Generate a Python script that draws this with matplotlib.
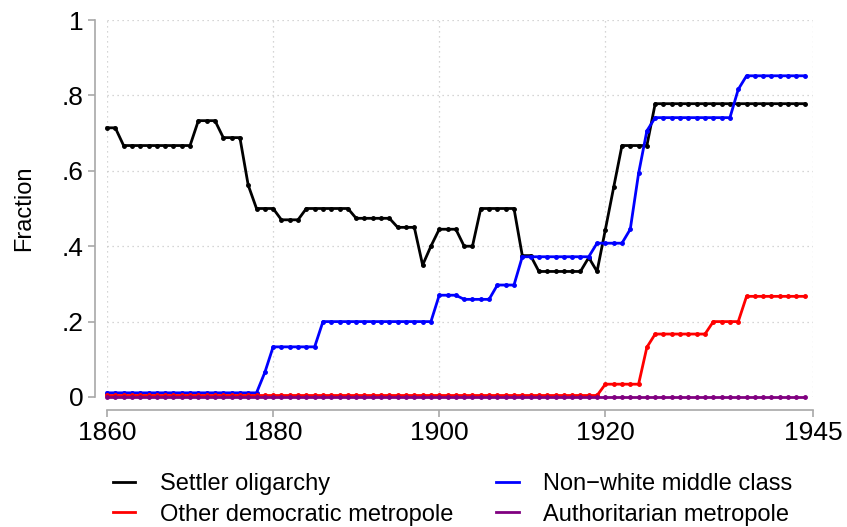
import matplotlib
matplotlib.use("Agg")
import matplotlib.pyplot as plt

plt.rcParams['font.family'] = ['Liberation Sans', 'DejaVu Sans']

years = list(range(1860, 1945))

settler = [.714, .714,
           .667, .667, .667, .667, .667, .667, .667, .667, .667,
           .733, .733, .733, .688, .688, .688, .562, .5, .5, .5,
           .47, .47, .47, .5, .5, .5, .5, .5, .5,
           .474, .474, .474, .474, .474, .45, .45, .45, .35, .4,
           .445, .445, .445, .4, .4, .5, .5, .5, .5, .5,
           .375, .375, .333, .333, .333, .333, .333, .333, .37, .333,
           .444, .556, .667, .667, .667, .667, .778, .778, .778, .778,
           .778, .778, .778, .778, .778, .778, .778, .778, .778, .778,
           .778, .778, .778, .778, .778]

nonwhite = [.011, .011, .011, .011, .011, .011, .011, .011, .011, .011,
            .011, .011, .011, .011, .011, .011, .011, .011, .011, .065,
            .133, .133, .133, .133, .133, .133, .2, .2, .2, .2,
            .2, .2, .2, .2, .2, .2, .2, .2, .2, .2,
            .27, .27, .27, .259, .259, .259, .259, .297, .297, .297,
            .372, .372, .372, .372, .372, .372, .372, .372, .372, .408,
            .408, .408, .408, .445, .593, .706, .741, .741, .741, .741,
            .741, .741, .741, .741, .741, .741, .816, .852, .852, .852,
            .852, .852, .852, .852, .852]

other_dem = [.004, .004, .004, .004, .004, .004, .004, .004, .004, .004,
             .004, .004, .004, .004, .004, .004, .004, .004, .004, .004,
             .004, .004, .004, .004, .004, .004, .004, .004, .004, .004,
             .004, .004, .004, .004, .004, .004, .004, .004, .004, .004,
             .004, .004, .004, .004, .004, .004, .004, .004, .004, .004,
             .004, .004, .004, .004, .004, .004, .004, .004, .004, .004,
             .034, .034, .034, .034, .034, .132, .167, .167, .167, .167,
             .167, .167, .167, .2, .2, .2, .2, .267, .267, .267,
             .267, .267, .267, .267, .267]

authoritarian = [0.0] * 85

xticks = [1860, 1880, 1900, 1920, 1945]
yticks = [0, .2, .4, .6, .8, 1]
ytick_labels = ['0', '.2', '.4', '.6', '.8', '1']

fig = plt.figure(figsize=(8.47, 5.27), dpi=100)
ax = fig.add_axes([107/847, 130/527, 706/847, 377/527])

l1, = ax.plot(years, settler, color='black', lw=2.0, marker='o', ms=2.5, label='Settler oligarchy')
l2, = ax.plot(years, nonwhite, color='#0000ff', lw=2.0, marker='o', ms=2.5, label='Non\u2212white middle class')
l3, = ax.plot(years, other_dem, color='#ff0000', lw=2.0, marker='o', ms=2.5, label='Other democratic metropole')
l4, = ax.plot(years, authoritarian, color='#800080', lw=2.0, marker='o', ms=2.5, label='Authoritarian metropole')
for l in [l1, l2, l3, l4]:
    l.set_clip_on(False)

ax.set_xlim(1860, 1945)
ax.set_ylim(0, 1)
ax.set_xticks(xticks)
ax.set_yticks(yticks)
ax.set_yticklabels(ytick_labels)
ax.grid(True, linestyle=(0, (1, 3)), color='#c8c8c8', lw=0.9)
ax.set_axisbelow(True)

for s in ['top', 'right']:
    ax.spines[s].set_visible(False)
ax.spines['left'].set_position(('outward', 8.6))
ax.spines['bottom'].set_position(('outward', 9.4))
for s in ['left', 'bottom']:
    ax.spines[s].set_color('#a8a8a8')
    ax.spines[s].set_linewidth(1.2)
ax.tick_params(colors='#a8a8a8', labelcolor='black', labelsize=19, length=5, width=1.2, pad=3)

ax.set_ylabel('Fraction', fontsize=17, labelpad=19)

fig.legend(handles=[l1, l3, l2, l4], ncol=2, frameon=False, fontsize=17,
           loc='upper left', bbox_to_anchor=(113/847, 1 - 473/527),
           handlelength=0.95, handletextpad=1.05, columnspacing=1.8,
           labelspacing=0.36, borderpad=0, borderaxespad=0)
for h in fig.legends[0].legend_handles:
    h.set_marker('')

fig.savefig('out.png', dpi=100)
